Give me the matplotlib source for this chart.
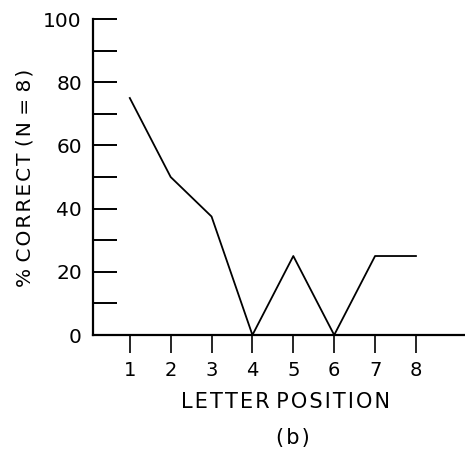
import matplotlib
matplotlib.use('Agg')
import matplotlib.pyplot as plt
import numpy as np

# letter position vs percent correct (N = 8)
positions = [1, 2, 3, 4, 5, 6, 7, 8]
pct_correct = [75, 50, 37.5, 0, 25, 0, 25, 25]
ytick_vals = list(range(0, 101, 10))
ytick_labels = ['0', '', '20', '', '40', '', '60', '', '80', '', '100']


def spaced(s):
    # old lettering-guide look: small gaps inside words, plain space between
    return ' '.join('\u200a'.join(w) for w in s.split(' '))


plt.rcParams['font.family'] = 'DejaVu Sans'

fig = plt.figure(figsize=(4.65, 4.55), dpi=100)
ax = fig.add_axes([0.2, 0.2637, 0.8, 0.6945])

ax.plot(positions, pct_correct, 'k-', lw=1.3)

ax.set_xlim(0.1, 9.2)
ax.set_ylim(0, 100)

for s in ['top', 'right']:
    ax.spines[s].set_visible(False)
for s in ['left', 'bottom']:
    ax.spines[s].set_linewidth(1.6)

ax.set_yticks(ytick_vals)
ax.set_yticklabels(ytick_labels, fontsize=14.5)
ax.tick_params(axis='y', direction='in', length=17, width=1.4, pad=8)
ax.set_xticks(positions)
ax.set_xticklabels([str(p) for p in positions], fontsize=14)
ax.tick_params(axis='x', direction='out', length=13, width=1.2, pad=6)

fig.text(0.054, 0.61, spaced('% CORRECT (N = 8)'), rotation=90, ha='center', va='center', fontsize=14.5)
fig.text(0.613, 0.116, spaced('LETTER POSITION'), ha='center', va='center', fontsize=15)
fig.text(0.63, 0.037, spaced('(b)'), ha='center', va='center', fontsize=15)

fig.savefig('out.png', dpi=100)
